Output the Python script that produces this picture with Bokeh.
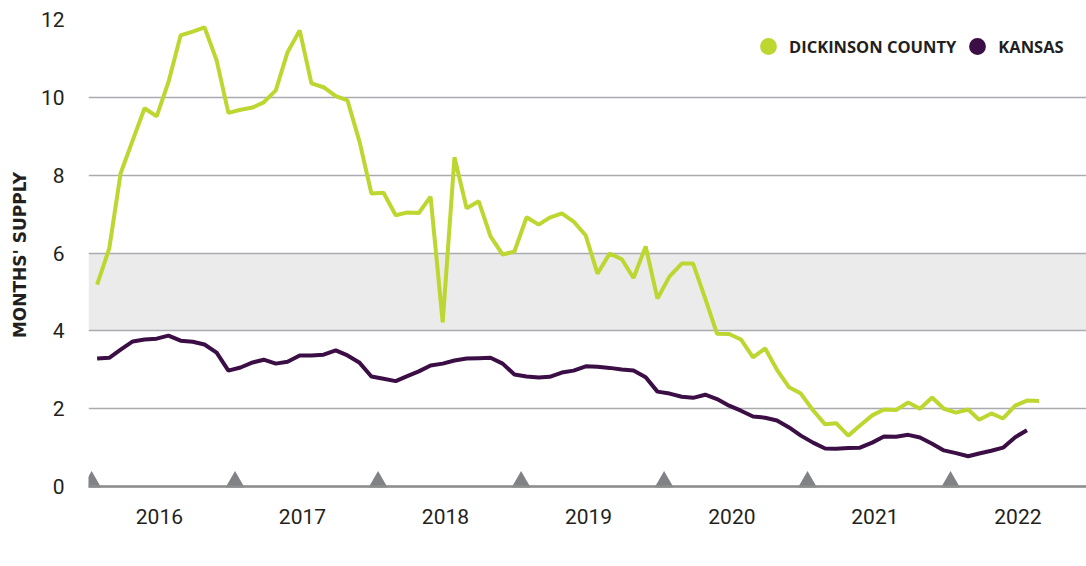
from datetime import datetime
import pandas as pd
from bokeh.plotting import figure
from bokeh.models import (Range1d, FixedTicker, DatetimeTickFormatter, BoxAnnotation,
                          Span, Legend, LegendItem)
from bokeh.embed import file_html
from bokeh.resources import INLINE

# ---------------- data ----------------
dickinson = [5.19, 6.12, 8.05, 8.90, 9.72, 9.51, 10.39, 11.59, 11.69, 11.80, 10.95, 9.60,
             9.68, 9.74, 9.87, 10.18, 11.16, 11.72, 10.36, 10.26, 10.03, 9.92, 8.85, 7.53,
             7.55, 6.97, 7.04, 7.03, 7.45, 4.22, 8.46, 7.15, 7.33, 6.43, 5.96, 6.04,
             6.92, 6.73, 6.91, 7.02, 6.81, 6.45, 5.47, 5.99, 5.84, 5.36, 6.17, 4.83,
             5.40, 5.73, 5.73, 4.83, 3.93, 3.92, 3.78, 3.32, 3.55, 3.00, 2.55, 2.39,
             1.96, 1.60, 1.63, 1.31, 1.57, 1.83, 1.98, 1.97, 2.16, 2.00, 2.29, 2.00,
             1.90, 1.98, 1.72, 1.88, 1.75, 2.08, 2.21, 2.20]

kansas = [3.29, 3.31, 3.52, 3.73, 3.78, 3.80, 3.88, 3.75, 3.72, 3.65, 3.44, 2.98,
          3.06, 3.19, 3.26, 3.16, 3.21, 3.37, 3.37, 3.39, 3.50, 3.37, 3.18, 2.83,
          2.77, 2.71, 2.83, 2.96, 3.11, 3.16, 3.24, 3.29, 3.30, 3.31, 3.16, 2.88,
          2.83, 2.80, 2.82, 2.93, 2.98, 3.09, 3.08, 3.05, 3.01, 2.98, 2.81, 2.44,
          2.39, 2.31, 2.28, 2.36, 2.25, 2.08, 1.95, 1.80, 1.77, 1.70, 1.52, 1.31,
          1.13, 0.98, 0.97, 0.99, 1.00, 1.13, 1.29, 1.28, 1.33, 1.26, 1.10, 0.93,
          0.86, 0.78, 0.85, 0.92, 1.00, 1.27, 1.45]

years = [2016, 2017, 2018, 2019, 2020, 2021, 2022]
y_ticks = [0, 2, 4, 6, 8, 10, 12]
series_names = ["DICKINSON COUNTY", "KANSAS"]

# ---------------- styles ----------------
GREEN = "#bdd630"
PURPLE = "#3b0f45"
GRID = "#a9abae"
TRI = "#808285"
BAND = "#ebebeb"
TXT = "#231f20"
TRI_Y = 0.12

months_d = [datetime(2016 + i // 12, i % 12 + 1, 15) for i in range(len(dickinson))]
months_k = [datetime(2016 + i // 12, i % 12 + 1, 15) for i in range(len(kansas))]
year_starts = [datetime(y, 1, 1) for y in years]
year_mid_ms = [pd.Timestamp(y, 6, 22).timestamp() * 1000 for y in years]

p = figure(width=1086, height=560, x_axis_type="datetime",
           x_range=Range1d(datetime(2015, 12, 24), datetime(2022, 12, 14)),
           y_range=Range1d(-0.1, 12),
           output_backend="svg", toolbar_location=None,
           min_border_left=88, min_border_right=0, min_border_top=19, min_border_bottom=70)
p.outline_line_color = None
p.background_fill_color = "white"

# band between 4 and 6
p.add_layout(BoxAnnotation(bottom=4, top=6, fill_color=BAND, fill_alpha=1,
                           line_color=None, level="image"))

# grid
p.xgrid.grid_line_color = None
p.ygrid.grid_line_color = GRID
p.ygrid.grid_line_width = 1.5

# y axis
p.yaxis.ticker = FixedTicker(ticks=y_ticks)
p.yaxis.axis_line_color = None
p.yaxis.major_tick_line_color = None
p.yaxis.minor_tick_line_color = None
p.yaxis.major_label_text_font = "Roboto"
p.yaxis.major_label_text_font_size = "21px"
p.yaxis.major_label_text_color = TXT
p.yaxis.major_label_standoff = 18
p.yaxis.axis_label = "MONTHS' SUPPLY"
p.yaxis.axis_label_text_font = "DejaVu Sans"
p.yaxis.axis_label_text_font_style = "bold"
p.yaxis.axis_label_text_font_size = "17px"
p.yaxis.axis_label_text_color = TXT
p.yaxis.axis_label_standoff = 8

# x axis
p.xaxis.ticker = FixedTicker(ticks=year_mid_ms)
fmt = "%Y"
p.xaxis.formatter = DatetimeTickFormatter(years=fmt, months=fmt, days=fmt, hours=fmt,
                                          minutes=fmt, seconds=fmt, milliseconds=fmt,
                                          microseconds=fmt, minsec=fmt, hourmin=fmt)
p.xaxis.axis_line_color = None
p.xaxis.major_tick_line_color = None
p.xaxis.minor_tick_line_color = None
p.xaxis.major_label_text_font = "Roboto"
p.xaxis.major_label_text_font_size = "21px"
p.xaxis.major_label_text_color = TXT
p.xaxis.major_label_standoff = 12

# zero line
p.add_layout(Span(location=0, dimension="width", line_color="#8c8c8c", line_width=2.5))

# year triangles
p.scatter(x=year_starts, y=[TRI_Y] * len(year_starts), marker="triangle", size=19,
          fill_color=TRI, line_color=None)

# lines
p.line(months_d, dickinson, line_color=GREEN, line_width=4)
p.line(months_k, kansas, line_color=PURPLE, line_width=4)

# legend (renderers with no visible points, used only for their swatches)
nan = float("nan")
r1 = p.scatter(x=[nan], y=[nan], marker="circle", size=17, fill_color=GREEN, line_color=None)
r2 = p.scatter(x=[nan], y=[nan], marker="circle", size=17, fill_color=PURPLE, line_color=None)
legend = Legend(items=[LegendItem(label=series_names[0], renderers=[r1]),
                       LegendItem(label=series_names[1], renderers=[r2])],
                location=(659, 423), orientation="horizontal",
                glyph_width=42, glyph_height=42, label_standoff=-4, spacing=0,
                margin=0, padding=6, background_fill_alpha=0, border_line_color=None,
                label_text_font="Open Sans", label_text_font_style="bold",
                label_text_font_size="16.5px", label_text_color=TXT)
p.add_layout(legend)

open("out.html", "w").write(file_html(p, INLINE))
